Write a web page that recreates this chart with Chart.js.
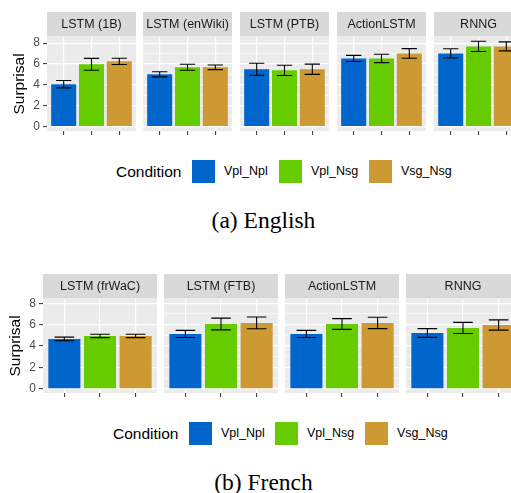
<!DOCTYPE html>
<html>
<head>
<meta charset="utf-8">
<script src="https://cdn.jsdelivr.net/npm/chart.js@4.4.0/dist/chart.umd.min.js"></script>
<style>
  body { margin: 0; width: 511px; height: 493px; overflow: hidden; background: #fff; position: relative;
         font-family: "Liberation Sans", Arial, sans-serif; }
  canvas { position: absolute; }
  .leg { position: absolute; white-space: nowrap; height: 23px; line-height: 23px; color: #000; }
  .key { position: absolute; width: 23px; height: 23px; }
  .cap { position: absolute; left: 0; width: 511px; text-align: center; line-height: 28px;
         font-family: "Liberation Serif", "Times New Roman", serif; font-size: 23.5px; color: #000; }
</style>
</head>
<body>
<script>
// conditions (fill colours follow the legend order)
const conditions = ['Vpl_Npl', 'Vpl_Nsg', 'Vsg_Nsg'];
const conditionColors = ['#0066CC', '#66CC00', '#CC9933'];
const yTicks = [0, 2, 4, 6, 8];

// English: mean surprisal and error (half-width of the bar) per model
const englishModels = ['LSTM (1B)', 'LSTM (enWiki)', 'LSTM (PTB)', 'ActionLSTM', 'RNNG'];
const englishVplNpl = [4.07, 5.02, 5.50, 6.54, 7.02];
const englishVplNsg = [5.97, 5.69, 5.40, 6.54, 7.69];
const englishVsgNsg = [6.26, 5.69, 5.50, 7.02, 7.69];
const englishVplNplErr = [0.35, 0.25, 0.57, 0.29, 0.44];
const englishVplNsgErr = [0.57, 0.29, 0.49, 0.40, 0.49];
const englishVsgNsgErr = [0.30, 0.22, 0.49, 0.46, 0.43];

// French
const frenchModels = ['LSTM (frWaC)', 'LSTM (FTB)', 'ActionLSTM', 'RNNG'];
const frenchVplNpl = [4.66, 5.13, 5.13, 5.22];
const frenchVplNsg = [4.94, 6.06, 6.06, 5.69];
const frenchVsgNsg = [4.94, 6.16, 6.16, 5.97];
const frenchVplNplErr = [0.17, 0.33, 0.33, 0.41];
const frenchVplNsgErr = [0.16, 0.55, 0.50, 0.52];
const frenchVsgNsgErr = [0.16, 0.55, 0.53, 0.48];

const STRIP_H = 25;
const PANEL_H = 94;
const BOTTOM = 20;

// grey panel + facet strip (ggplot look)
const panelDecor = {
  id: 'panelDecor',
  beforeDraw(chart, args, opts) {
    const { ctx, chartArea: a } = chart;
    ctx.save();
    ctx.fillStyle = '#EBEBEB';
    ctx.fillRect(a.left, a.top, a.width, a.height);
    ctx.fillStyle = '#D9D9D9';
    ctx.fillRect(a.left, 0, a.width, a.top - 0.5);
    ctx.fillStyle = '#1A1A1A';
    ctx.font = '12.5px "Liberation Sans", Arial, sans-serif';
    ctx.textAlign = 'center';
    ctx.textBaseline = 'middle';
    ctx.fillText(opts.text, (a.left + a.right) / 2, a.top / 2 + 0.5);
    ctx.restore();
  }
};

const errorBars = {
  id: 'errorBars',
  afterDatasetsDraw(chart) {
    const { ctx, scales: { x, y } } = chart;
    const ds = chart.data.datasets[0];
    const meta = chart.getDatasetMeta(0);
    const half = x.getPixelForValue(1.275) - x.getPixelForValue(1);
    ctx.save();
    ctx.strokeStyle = '#000';
    ctx.lineWidth = 1.1;
    meta.data.forEach((bar, i) => {
      const v = ds.data[i].y, e = ds.errors[i];
      const t = y.getPixelForValue(v + e), b = y.getPixelForValue(v - e);
      ctx.beginPath();
      ctx.moveTo(bar.x - half, t); ctx.lineTo(bar.x + half, t);
      ctx.moveTo(bar.x, t); ctx.lineTo(bar.x, b);
      ctx.moveTo(bar.x - half, b); ctx.lineTo(bar.x + half, b);
      ctx.stroke();
    });
    ctx.restore();
  }
};

function makePanel(p) {
  const c = document.createElement('canvas');
  c.width = p.axisW + p.width;
  c.height = STRIP_H + PANEL_H + BOTTOM;
  c.style.left = (p.left - p.axisW) + 'px';
  c.style.top = (p.top - STRIP_H) + 'px';
  document.body.appendChild(c);
  const show = p.axisW > 0;

  new Chart(c, {
    type: 'bar',
    data: {
      datasets: [{
        data: p.values.map((v, i) => ({ x: i + 1, y: v })),
        errors: p.errors,
        backgroundColor: conditionColors,
        borderWidth: 0,
        categoryPercentage: 1,
        barPercentage: 0.9
      }]
    },
    options: {
      responsive: false,
      animation: false,
      devicePixelRatio: 1,
      layout: { padding: { top: STRIP_H, bottom: BOTTOM - 4, left: 0, right: 0 } },
      plugins: {
        legend: { display: false },
        tooltip: { enabled: false },
        panelDecor: { text: p.title }
      },
      scales: {
        x: {
          type: 'linear', min: 0.4, max: 3.6, offset: false,
          afterBuildTicks: s => { s.ticks = [1, 2, 3].map(v => ({ value: v })); },
          afterFit: s => { s.height = 4; },
          ticks: { display: false },
          grid: { offset: false, color: '#fff', lineWidth: 1.2, drawTicks: true,
                  tickLength: 4, tickColor: '#333', tickWidth: 1 },
          border: { display: false }
        },
        y: {
          min: p.yMin, max: p.yMax,
          afterBuildTicks: s => { s.ticks = [0, 1, 2, 3, 4, 5, 6, 7, 8].map(v => ({ value: v })); },
          afterFit: s => { s.width = p.axisW; },
          ticks: {
            display: show,
            callback: v => yTicks.includes(v) ? String(v) : '',
            font: { size: 12, family: '"Liberation Sans", Arial, sans-serif' },
            color: '#4D4D4D',
            padding: 3
          },
          grid: {
            color: '#fff',
            lineWidth: ctx => yTicks.includes(ctx.tick.value) ? 1.2 : 0.6,
            drawTicks: show,
            tickLength: 4,
            tickWidth: 1,
            tickColor: ctx => yTicks.includes(ctx.tick.value) ? '#333' : 'rgba(0,0,0,0)'
          },
          border: { display: false },
          title: {
            display: show, text: 'Surprisal', color: '#000',
            font: { size: 15.5, family: '"Liberation Sans", Arial, sans-serif' },
            padding: { top: p.titlePad, bottom: 0 }
          }
        }
      }
    },
    plugins: [panelDecor, errorBars]
  });
}

function makeRow(row) {
  row.models.forEach((m, i) => {
    makePanel({
      title: m,
      left: row.lefts[i],
      top: row.top,
      width: row.width,
      axisW: i === 0 ? row.lefts[0] : 0,
      titlePad: row.titlePad,
      yMin: row.yMin, yMax: row.yMax,
      values: row.series.map(s => s[i]),
      errors: row.errs.map(s => s[i])
    });
  });
}

function makeLegend(lg) {
  const t = document.createElement('div');
  t.className = 'leg';
  t.style.left = lg.titleLeft + 'px';
  t.style.top = lg.top + 'px';
  t.style.fontSize = '15.5px';
  t.textContent = 'Condition';
  document.body.appendChild(t);
  conditions.forEach((name, i) => {
    const k = document.createElement('div');
    k.className = 'key';
    k.style.left = lg.keyLefts[i] + 'px';
    k.style.top = lg.top + 'px';
    k.style.background = conditionColors[i];
    document.body.appendChild(k);
    const l = document.createElement('div');
    l.className = 'leg';
    l.style.left = (lg.keyLefts[i] + 32) + 'px';
    l.style.top = lg.top + 'px';
    l.style.fontSize = '12.5px';
    l.textContent = name;
    document.body.appendChild(l);
  });
}

function makeCaption(text, top) {
  const d = document.createElement('div');
  d.className = 'cap';
  d.style.top = top + 'px';
  d.style.left = '8px';
  d.textContent = text;
  document.body.appendChild(d);
}

makeRow({
  models: englishModels,
  series: [englishVplNpl, englishVplNsg, englishVsgNsg],
  errs: [englishVplNplErr, englishVplNsgErr, englishVsgNsgErr],
  lefts: [47, 143, 240, 337, 434], width: 89, top: 37,
  yMin: -0.41, yMax: 8.59, titlePad: 10
});
makeLegend({ titleLeft: 116, top: 160, keyLefts: [192, 279, 369] });
makeCaption('(a) English', 206);

makeRow({
  models: frenchModels,
  series: [frenchVplNpl, frenchVplNsg, frenchVsgNsg],
  errs: [frenchVplNplErr, frenchVplNsgErr, frenchVsgNsgErr],
  lefts: [43, 164, 285, 406], width: 114, top: 299,
  yMin: -0.4, yMax: 8.4, titlePad: 6
});
makeLegend({ titleLeft: 113, top: 422, keyLefts: [189, 275, 365] });
makeCaption('(b) French', 468);
</script>
</body>
</html>
